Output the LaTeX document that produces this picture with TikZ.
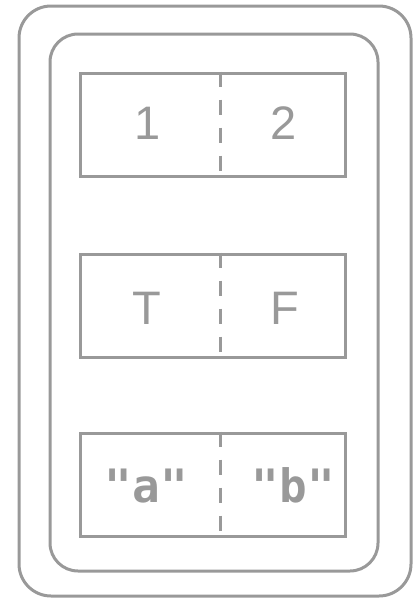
\documentclass[tikz,border=0pt]{standalone}
\usepackage{fontspec}
\usepackage{tikz}
\usetikzlibrary{positioning,calc}
\newfontfamily\numfont{Liberation Sans}
\newfontfamily\codefont{DejaVu Sans Mono}
\definecolor{linegray}{RGB}{153,153,153}

\begin{document}
\begin{tikzpicture}[
    x=1pt, y=-1pt,
    frame/.style={
        draw=linegray,
        line width=3pt,
        rounded corners=#1
    },
    rowbox/.style={
        draw=linegray,
        line width=3pt,
        minimum width=265pt,
        minimum height=103pt,
        inner sep=0pt
    },
    divider/.style={
        draw=linegray,
        line width=3pt,
        dash pattern=on 15pt off 13pt
    },
    numtext/.style={
        text=linegray,
        anchor=base,
        inner sep=0pt,
        font=\numfont\fontsize{47}{50}\selectfont
    },
    codetext/.style={
        text=linegray,
        anchor=base,
        inner sep=0pt,
        font=\codefont\bfseries\fontsize{46}{50}\selectfont
    }
]
    \useasboundingbox (0,0) rectangle (414,598);
    \draw[frame=32pt] (19,6) rectangle (411,596);
    \draw[frame=28pt] (50,34) rectangle (378,571);

    \node[rowbox] (ints) at (212.5,124.5) {};
    \node[rowbox] (bools) at (212.5,305.5) {};
    \node[rowbox] (strs) at (212.5,484.5) {};

    \draw[divider] ([xshift=8pt]ints.north) -- ([xshift=8pt]ints.south);
    \draw[divider] ([xshift=8pt]bools.north) -- ([xshift=8pt]bools.south);
    \draw[divider] ([xshift=8pt]strs.north) -- ([xshift=8pt]strs.south);

    \node[numtext] (one) at (147.5,139) {1};
    \node[numtext] (two) at (284,139) {2};
    \node[numtext] (true) at (146.5,324) {T};
    \node[numtext] (false) at (285,324) {F};
    \node[codetext] (stra) at (146.5,502) {"a"};
    \node[codetext] (strb) at (293.5,502) {"b"};
\end{tikzpicture}
\end{document}
